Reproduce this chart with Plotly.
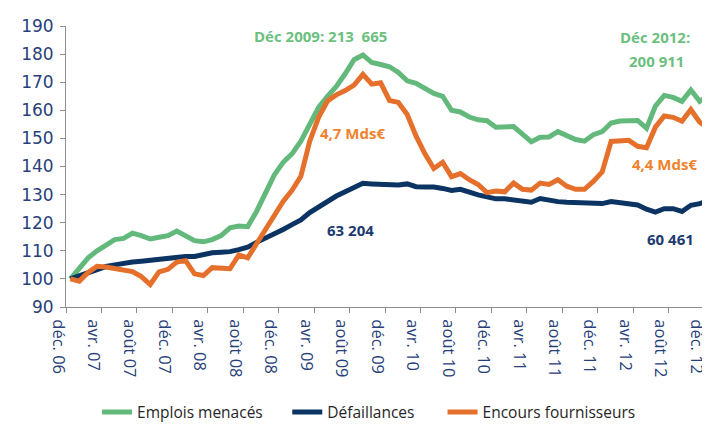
import plotly.graph_objects as go

# Monthly index values, Dec 2006 = 100 (déc. 06 ... déc. 12, 73 months)
emplois_menaces = [
    100, 104, 107.5, 110, 111.8, 114, 114.4, 116.3, 115.4, 114.2,
    114.8, 115.4, 117, 115.2, 113.6, 113.2, 114, 115.4, 118.2, 118.8,
    118.6, 124, 130.5, 137, 141.5, 144.5, 149, 155.5, 161, 165,
    168.5, 173, 178, 179.7, 177, 176.3, 175.5, 173.5, 170.5, 169.6,
    168, 166, 165, 160, 159.4, 157.6, 156.6, 156.3, 154, 154.2,
    154.2, 151.5, 148.8, 150.4, 150.5, 152.4, 151, 149.6, 149, 151.3,
    152.4, 155.5, 156.2, 156.2, 156.4, 153.6, 161.5, 165.3, 164.6, 163.2,
    167.2, 163.2, 165.3,
]
defaillances = [
    100, 101.2, 102.3, 103.5, 104.4, 105, 105.6, 106, 106.3, 106.7,
    107.1, 107.3, 107.6, 108, 108, 108.8, 109.3, 109.5, 109.7, 110.4,
    111.3, 113, 114.5, 115.8, 117.6, 119.3, 121, 123.6, 125.6, 127.8,
    129.5, 131, 132.7, 134, 133.8, 133.6, 133.5, 133.4, 133.8, 132.8,
    132.7, 132.7, 132.2, 131.5, 131.9, 130.7, 129.9, 129.2, 128.5, 128.5,
    128.2, 127.8, 127.3, 128.6, 127.9, 127.5, 127.3, 127.1, 127, 126.9,
    126.8, 127.5, 127.2, 126.9, 126.3, 124.8, 123.8, 125, 125, 124,
    126.2, 126.8, 127.9,
]
encours_fournisseurs = [
    100, 99.2, 102.3, 104.5, 104.2, 103.8, 103.4, 102.6, 100.8, 98,
    102.5, 103.4, 106, 106.5, 101.8, 101.2, 104, 103.6, 103.6, 108.5,
    107.5, 112.5, 117.5, 123, 127.6, 131.5, 136.5, 149, 157.5, 163.3,
    165.5, 167, 169, 172.8, 169.3, 169.8, 163.5, 162.8, 158.5, 150.8,
    144.5, 139.3, 141.5, 136.4, 137.5, 135.3, 133.6, 130.7, 131.3, 131,
    134.1, 131.9, 131.6, 134.1, 133.6, 135.3, 133, 131.9, 131.9, 134.7,
    138.1, 148.9, 149, 149.3, 147.2, 146.7, 154, 158, 157.5, 156.1,
    160.3, 155.8, 153.5,
]

series_names = ["Emplois menacés", "Défaillances", "Encours fournisseurs"]
series_colors = ["#63b97b", "#0b3463", "#e5702b"]

tick_labels = [
    "déc. 06", "avr. 07", "août 07", "déc. 07", "avr. 08", "août 08",
    "déc. 08", "avr. 09", "août 09", "déc. 09", "avr. 10", "août 10",
    "déc. 10", "avr. 11", "août 11", "déc. 11", "avr. 12", "août 12", "déc. 12",
]
label_step = 4  # one label every 4 months

n = len(emplois_menaces)
assert n == len(defaillances) == len(encours_fournisseurs) == 73
x = [i + 0.5 for i in range(n)]            # category centres
label_pos = [i * label_step for i in range(len(tick_labels))]

annotations_txt = [
    # text, month index (centre), value, colour
    ("Déc 2009: 213  665", 28.7, 186.3, "#6cbf7f"),
    ("4,7 Mds€", 32.35, 151.8, "#f0822f"),
    ("63 204", 32.05, 117.4, "#1d3b6e"),
    ("Déc 2012:", 66.4, 186.2, "#6cbf7f"),
    ("200 911", 66.65, 177.6, "#6cbf7f"),
    ("4,4 Mds€", 67.5, 140.9, "#f0822f"),
    ("60 461", 68.2, 114.1, "#1d3b6e"),
]

fig = go.Figure()
for name, ys, col, lg in zip(series_names,
                             [emplois_menaces, defaillances, encours_fournisseurs],
                             series_colors, ["legend", "legend2", "legend3"]):
    fig.add_trace(go.Scatter(
        x=x, y=ys, mode="lines", name=name, legend=lg,
        line=dict(color=col, width=5),
    ))

axis_col = "#8c8c8c"
lab_col = "#283f7a"
fig.update_xaxes(
    range=[0, n], tickmode="array", tickvals=label_pos, ticktext=tick_labels,
    tickangle=90, ticks="outside", ticklen=5, tickcolor=axis_col, tickwidth=1,
    ticklabelstandoff=3, ticklabelshift=-8, ticklabeloverflow="allow",
    showline=True, linecolor=axis_col, linewidth=1, showgrid=False, zeroline=False,
    tickfont=dict(family="Open Sans", size=16.5, color=lab_col),
)
fig.update_yaxes(
    range=[90, 190], tick0=90, dtick=10, ticks="outside", ticklen=5,
    tickcolor=axis_col, showline=True, linecolor=axis_col, linewidth=1,
    showgrid=False, zeroline=False, ticklabelstandoff=3,
    tickfont=dict(family="DejaVu Sans", size=17, color=lab_col),
)

for txt, xi, yv, col in annotations_txt:
    fig.add_annotation(x=xi, y=yv, xref="x", yref="y", text="<b>%s</b>" % txt,
                       showarrow=False, xanchor="center", yanchor="middle",
                       font=dict(family="Open Sans", size=15, color=col))

leg_common = dict(orientation="h", yanchor="middle", xanchor="left", y=-0.375,
                  bgcolor="rgba(0,0,0,0)", borderwidth=0,
                  font=dict(family="Open Sans", size=15.5, color="#262626"))
fig.update_layout(
    width=710, height=426,
    margin=dict(l=58, r=5, t=18, b=115),
    paper_bgcolor="white", plot_bgcolor="white",
    showlegend=True,
    legend=dict(x=0.048, **leg_common),
    legend2=dict(x=0.342, **leg_common),
    legend3=dict(x=0.582, **leg_common),
)

fig.write_html("out.html")
